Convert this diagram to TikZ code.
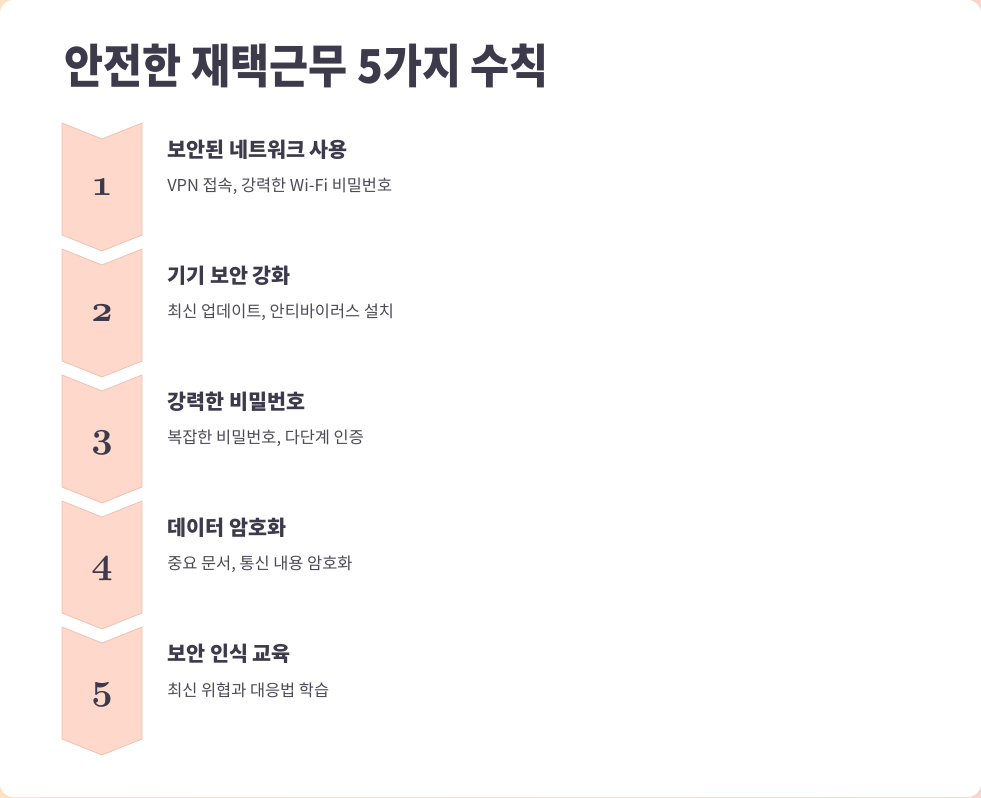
\documentclass[tikz,border=0pt]{standalone}
\usepackage{fontspec}
\usepackage{tikz}
\usetikzlibrary{positioning}
\newfontfamily\cjk{Noto Sans CJK KR}

\definecolor{ink}{HTML}{3C3A4B}
\definecolor{descgray}{HTML}{4B4A57}
\definecolor{chevfill}{HTML}{FDD8CB}
\definecolor{chevline}{HTML}{F0C2B2}
\definecolor{bgleft}{HTML}{FBE2C4}
\definecolor{bgright}{HTML}{F8D6D0}

\begin{document}
\begin{tikzpicture}[x=0.75pt, y=-0.75pt,
    chev/.style={fill=chevfill, draw=chevline, line width=0.6pt},
    num/.style={anchor=base, inner sep=0pt, text=ink, scale=1.12,
        font=\usefont{OML}{cmm}{b}{it}\fontsize{24.88}{26}\selectfont},
    head/.style={anchor=west, inner sep=0pt, text=ink,
        font=\cjk\bfseries\fontsize{15.5}{17}\selectfont},
    desc/.style={anchor=west, inner sep=0pt, text=descgray,
        font=\cjk\fontsize{12.3}{14}\selectfont}]
    \useasboundingbox (0,0) rectangle (981,797);
    % background and card
    \fill[left color=bgleft, right color=bgright] (0,0) rectangle (981,797);
    \fill[white, rounded corners=10pt] (0,0) rectangle (981,797);
    \node[anchor=west, inner sep=0pt, text=ink, xscale=0.91,
        font=\cjk\bfseries\fontsize{35}{38}\selectfont] (title) at (64,66) {안전한 재택근무 5가지 수칙};
    % five steps
    \foreach \i/\head/\desc in {1/{보안된 네트워크 사용}/{VPN 접속, 강력한 Wi-Fi 비밀번호},
        2/{기기 보안 강화}/{최신 업데이트, 안티바이러스 설치},
        3/{강력한 비밀번호}/{복잡한 비밀번호, 다단계 인증},
        4/{데이터 암호화}/{중요 문서, 통신 내용 암호화},
        5/{보안 인식 교육}/{최신 위협과 대응법 학습}} {
        \pgfmathsetmacro\ytop{123+126*(\i-1)}
        \draw[chev] (62,\ytop) -- ++(40,16) -- ++(40,-16) -- ++(0,112)
            -- ++(-40,16) -- ++(-40,-16) -- cycle;
        \node[num] (num\i) at (102,\ytop+72) {\i};
        \node[head] (head\i) at (167,\ytop+27) {\head};
        \node[desc] (desc\i) at (167,\ytop+63) {\desc};
    }
\end{tikzpicture}
\end{document}
